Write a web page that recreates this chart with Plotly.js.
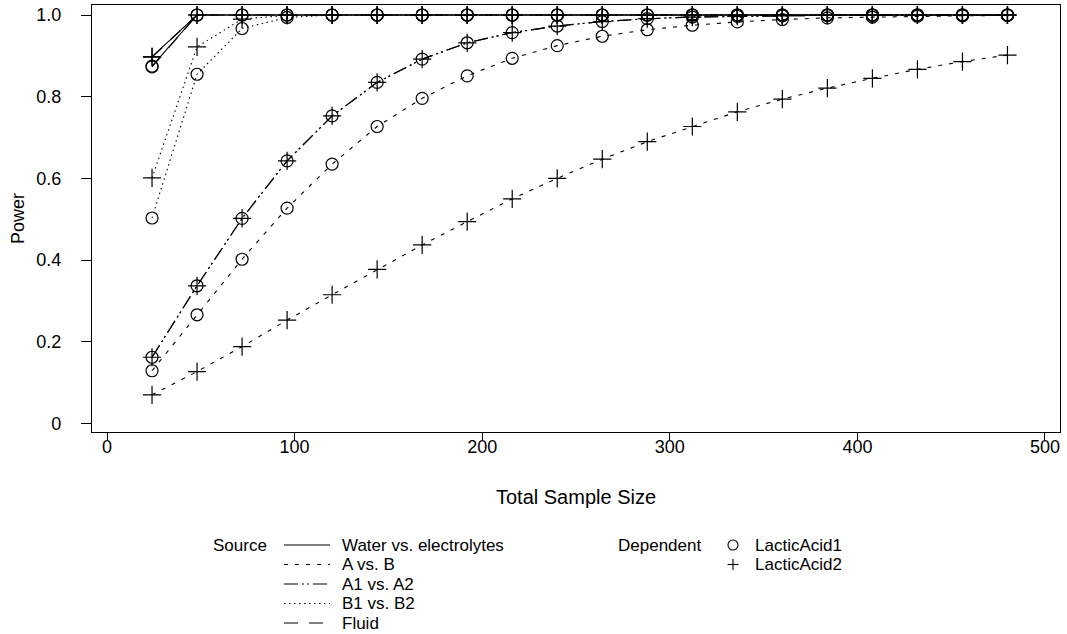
<!DOCTYPE html>
<html>
<head>
<meta charset="utf-8">
<script src="https://cdn.plot.ly/plotly-3.0.1.min.js"></script>
<style>
  html, body { margin: 0; padding: 0; background: #fff; }
  #chart { width: 1067px; height: 634px; }
</style>
</head>
<body>
<div id="chart"></div>
<script>
// ---------------- data ----------------
const sampleSize = [24, 48, 72, 96, 120, 144, 168, 192, 216, 240, 264, 288, 312, 336, 360, 384, 408, 432, 456, 480];

const sources = ['Water vs. electrolytes', 'A vs. B', 'A1 vs. A2', 'B1 vs. B2', 'Fluid'];
const dependents = ['LacticAcid1', 'LacticAcid2'];

const waterLA1 = [0.875, 1, 1, 1, 1, 1, 1, 1, 1, 1, 1, 1, 1, 1, 1, 1, 1, 1, 1, 1];
const waterLA2 = [0.898, 1, 1, 1, 1, 1, 1, 1, 1, 1, 1, 1, 1, 1, 1, 1, 1, 1, 1, 1];
const aVsBLA1 = [0.129, 0.266, 0.402, 0.527, 0.635, 0.727, 0.796, 0.851, 0.894, 0.925, 0.948, 0.964, 0.975, 0.983, 0.989, 0.993, 0.995, 0.997, 0.998, 0.999];
const aVsBLA2 = [0.070, 0.127, 0.188, 0.253, 0.315, 0.377, 0.437, 0.494, 0.550, 0.600, 0.647, 0.690, 0.727, 0.763, 0.794, 0.821, 0.845, 0.867, 0.886, 0.902];
const a1VsA2LA1 = [0.162, 0.337, 0.502, 0.643, 0.753, 0.835, 0.892, 0.932, 0.957, 0.973, 0.984, 0.991, 0.995, 0.997, 0.998, 0.999, 1, 1, 1, 1];
const a1VsA2LA2 = [0.162, 0.337, 0.502, 0.643, 0.753, 0.835, 0.892, 0.932, 0.957, 0.973, 0.984, 0.991, 0.995, 0.997, 0.998, 0.999, 1, 1, 1, 1];
const b1VsB2LA1 = [0.503, 0.855, 0.967, 0.994, 1, 1, 1, 1, 1, 1, 1, 1, 1, 1, 1, 1, 1, 1, 1, 1];
const b1VsB2LA2 = [0.601, 0.922, 0.990, 0.999, 1, 1, 1, 1, 1, 1, 1, 1, 1, 1, 1, 1, 1, 1, 1, 1];
const fluidLA1 = [0.873, 1, 1, 1, 1, 1, 1, 1, 1, 1, 1, 1, 1, 1, 1, 1, 1, 1, 1, 1];
const fluidLA2 = [0.897, 1, 1, 1, 1, 1, 1, 1, 1, 1, 1, 1, 1, 1, 1, 1, 1, 1, 1, 1];

const xTicks = [0, 100, 200, 300, 400, 500];
const yTicks = [0, 0.2, 0.4, 0.6, 0.8, 1.0];
const yTickText = ['0', '0.2', '0.4', '0.6', '0.8', '1.0'];

// ---------------- styles ----------------
const FONT = '"Liberation Sans", Arial, Helvetica, sans-serif';
const INK = '#000000';
const dashBySource = ['solid', '4px,7px', '14px,4px,2px,3px,2px,4px', '1.5px,3.5px', '14px,11px'];
const symbolByDep = ['circle-open', 'cross-thin-open'];

const seriesBySource = [
  [waterLA1, waterLA2],
  [aVsBLA1, aVsBLA2],
  [a1VsA2LA1, a1VsA2LA2],
  [b1VsB2LA1, b1VsB2LA2],
  [fluidLA1, fluidLA2]
];

const traces = [];
seriesBySource.forEach((pair, s) => {
  pair.forEach((vals, d) => {
    traces.push({
      type: 'scatter',
      mode: 'lines+markers',
      x: sampleSize,
      y: vals,
      name: sources[s] + ' / ' + dependents[d],
      showlegend: false,
      line: { color: INK, width: 1.1, dash: dashBySource[s] },
      marker: {
        symbol: symbolByDep[d],
        size: d === 0 ? 12 : 13,
        color: INK,
        line: { color: INK, width: 1.2 }
      },
      hoverinfo: 'x+y+name'
    });
  });
});

// ---------------- custom legend (paper coords from pixel positions) ----------------
const W = 1067, H = 634;
const M = { l: 92, r: 7, t: 5, b: 202 };
const plotW = W - M.l - M.r, plotH = H - M.t - M.b;
const px2x = px => (px - M.l) / plotW;
const py2y = py => (H - M.b - py) / plotH;

const legendFont = { family: FONT, size: 17, color: INK };
const annotations = [];
const shapes = [];

const rowY = [545, 564.5, 584, 603.5, 623];

annotations.push({
  xref: 'paper', yref: 'paper', x: px2x(268), y: py2y(rowY[0]),
  xanchor: 'right', yanchor: 'middle', text: 'Source', showarrow: false, font: legendFont,
  borderpad: 0
});
sources.forEach((src, i) => {
  shapes.push({
    type: 'line', xref: 'paper', yref: 'paper',
    x0: px2x(284), x1: px2x(330), y0: py2y(rowY[i]), y1: py2y(rowY[i]),
    line: { color: INK, width: 1.1, dash: dashBySource[i] }
  });
  annotations.push({
    xref: 'paper', yref: 'paper', x: px2x(341), y: py2y(rowY[i]),
    xanchor: 'left', yanchor: 'middle', text: src, showarrow: false, font: legendFont,
    borderpad: 0
  });
});

annotations.push({
  xref: 'paper', yref: 'paper', x: px2x(702), y: py2y(rowY[0]),
  xanchor: 'right', yanchor: 'middle', text: 'Dependent', showarrow: false, font: legendFont,
  borderpad: 0
});
dependents.forEach((dep, i) => {
  const cx = px2x(733), cy = py2y(rowY[i]);
  if (i === 0) {
    shapes.push({
      type: 'circle', xref: 'paper', yref: 'paper',
      xsizemode: 'pixel', ysizemode: 'pixel', xanchor: cx, yanchor: cy,
      x0: -5, x1: 5, y0: -5, y1: 5,
      line: { color: INK, width: 1.1 }
    });
  } else {
    shapes.push({
      type: 'line', xref: 'paper', yref: 'paper',
      xsizemode: 'pixel', ysizemode: 'pixel', xanchor: cx, yanchor: cy,
      x0: -5.5, x1: 5.5, y0: 0, y1: 0, line: { color: INK, width: 1.1 }
    });
    shapes.push({
      type: 'line', xref: 'paper', yref: 'paper',
      xsizemode: 'pixel', ysizemode: 'pixel', xanchor: cx, yanchor: cy,
      x0: 0, x1: 0, y0: -5.5, y1: 5.5, line: { color: INK, width: 1.1 }
    });
  }
  annotations.push({
    xref: 'paper', yref: 'paper', x: px2x(754), y: py2y(rowY[i]),
    xanchor: 'left', yanchor: 'middle', text: dep, showarrow: false, font: legendFont,
    borderpad: 0
  });
});

// ---------------- layout ----------------
const layout = {
  width: W, height: H,
  margin: M,
  paper_bgcolor: '#ffffff',
  plot_bgcolor: '#ffffff',
  font: { family: FONT, color: INK, size: 18 },
  showlegend: false,
  xaxis: {
    range: [-8, 508],
    tickvals: xTicks,
    ticktext: xTicks.map(String),
    ticks: 'outside', ticklen: 7, tickwidth: 1, tickcolor: INK,
    ticklabelstandoff: -9,
    showline: true, mirror: true, linecolor: INK, linewidth: 1.2,
    showgrid: false, zeroline: false,
    tickfont: { family: FONT, size: 18, color: INK },
    title: { text: 'Total Sample Size', font: { family: FONT, size: 20, color: INK }, standoff: 34 }
  },
  yaxis: {
    range: [-0.021, 1.0245],
    tickvals: yTicks,
    ticktext: yTickText,
    ticks: 'outside', ticklen: 10, tickwidth: 1, tickcolor: INK,
    ticklabelstandoff: 16,
    showline: true, mirror: true, linecolor: INK, linewidth: 1.2,
    showgrid: false, zeroline: false,
    tickfont: { family: FONT, size: 18, color: INK },
    title: { text: 'Power', font: { family: FONT, size: 18, color: INK }, standoff: 6 }
  },
  annotations: annotations,
  shapes: shapes
};

Plotly.newPlot('chart', traces, layout, { displayModeBar: false, staticPlot: true });
</script>
</body>
</html>
